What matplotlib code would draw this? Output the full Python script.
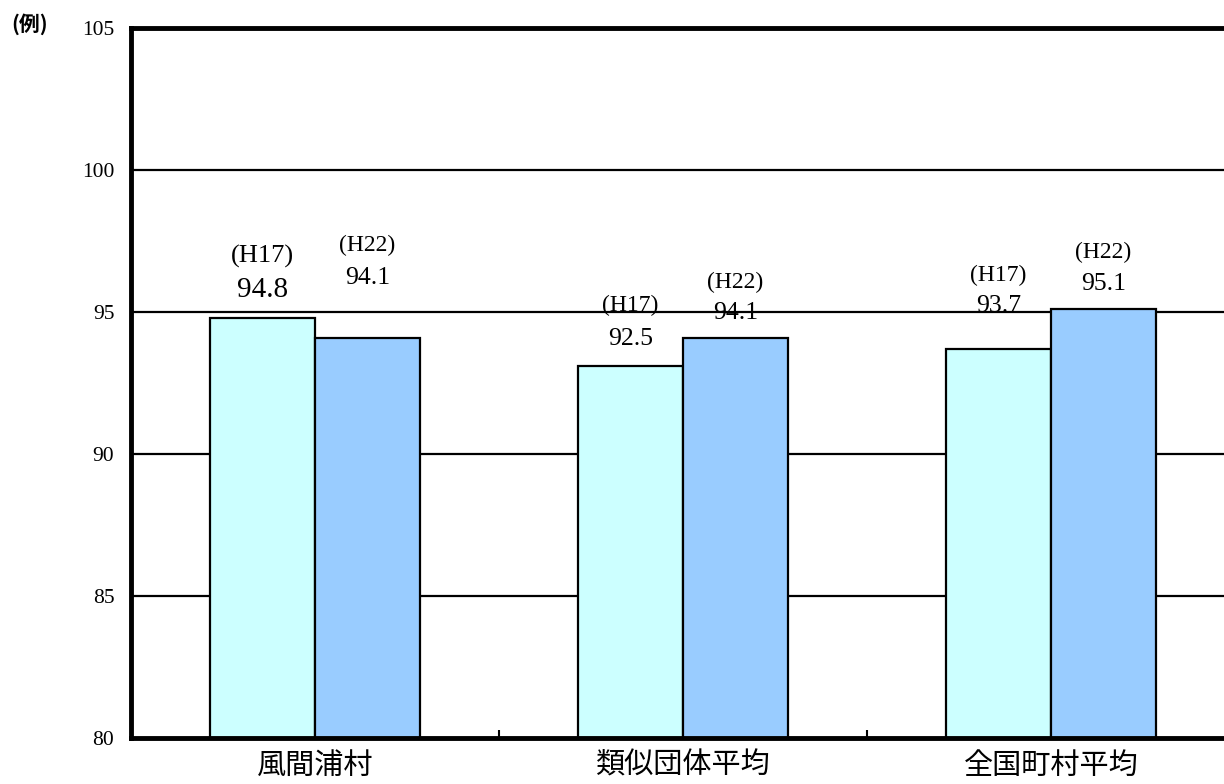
import matplotlib
matplotlib.use('Agg')
import matplotlib.pyplot as plt
import numpy as np

plt.rcParams['font.family'] = ['Liberation Serif', 'Noto Sans CJK JP', 'DejaVu Sans']

categories = ['風間浦村', '類似団体平均', '全国町村平均']
h17_values = [94.8, 93.1, 93.7]
h22_values = [94.1, 94.1, 95.1]
h17_labels = ['94.8', '92.5', '93.7']
h22_labels = ['94.1', '94.1', '95.1']
y_ticks = [80, 85, 90, 95, 100, 105]

# label offsets above the bar tops, in points (number line, year line)
h17_offsets = [(20, 44), (19.5, 43.5), (31, 53)]
h22_offsets = [(43, 66), (18, 40), (18, 41)]
# font sizes (year line, number line)
h17_sizes = [(19, 21), (17, 18.5), (17, 18.5)]
h22_sizes = [(17, 18.5), (17, 18.5), (17, 18.5)]

fig = plt.figure(figsize=(12.24, 7.84), dpi=100)
ax = fig.add_axes([131 / 1224, 1 - 738 / 784, 1104 / 1224, 710 / 784])

x = np.arange(len(categories))
w = 0.286
ax.bar(x - w / 2, h17_values, w, color='#CCFFFF', edgecolor='black', linewidth=1.6, zorder=3)
ax.bar(x + w / 2, h22_values, w, color='#99CCFF', edgecolor='black', linewidth=1.6, zorder=3)

for i in range(len(categories)):
    for xs, val, lab, year, off, fs in [
            (x[i] - w / 2, h17_values[i], h17_labels[i], '(H17)', h17_offsets[i], h17_sizes[i]),
            (x[i] + w / 2, h22_values[i], h22_labels[i], '(H22)', h22_offsets[i], h22_sizes[i])]:
        ax.annotate(lab, (xs, val), xytext=(0, off[0]), textcoords='offset points',
                    ha='center', va='center', fontsize=fs[1], zorder=5)
        ax.annotate(year, (xs, val), xytext=(0, off[1]), textcoords='offset points',
                    ha='center', va='center', fontsize=fs[0], zorder=5)

ax.set_ylim(80, 105)
ax.set_xlim(-0.5, 2.5)
ax.set_yticks(y_ticks)
ax.set_yticklabels([str(t) for t in y_ticks], fontsize=15.5)
ax.tick_params(axis='y', length=0, pad=12)
for t in y_ticks[1:-1]:
    ax.axhline(t, color='black', linewidth=1.6, zorder=1)

ax.set_xticks(x)
ax.set_xticklabels(categories, fontsize=21, family=['Noto Sans CJK JP'])
ax.tick_params(axis='x', which='major', length=0, pad=9)
ax.set_xticks([0.5, 1.5], minor=True)
ax.tick_params(axis='x', which='minor', direction='in', length=6, width=1.5)

for s in ['left', 'top', 'bottom']:
    ax.spines[s].set_linewidth(3.5)
    ax.spines[s].set_zorder(6)
ax.spines['right'].set_visible(False)

fig.text(30 / 1224, 1 - 24 / 784, '(例)', fontsize=15, fontweight='bold',
         family=['Noto Sans CJK JP'], ha='center', va='center')

fig.savefig('out.png', dpi=100)
